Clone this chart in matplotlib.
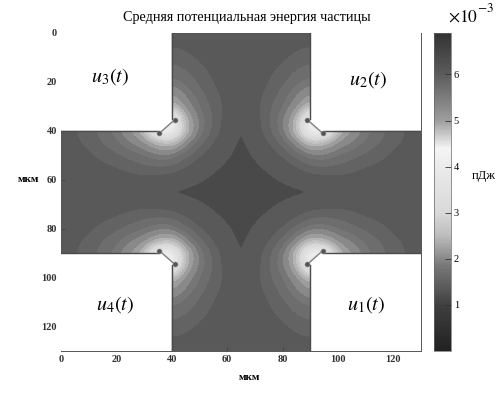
import numpy as np
from matplotlib import pyplot as plt
from matplotlib.cm import ScalarMappable
from matplotlib.colors import LinearSegmentedColormap, Normalize
from matplotlib.patches import Polygon

plt.rcParams["font.family"] = ["Liberation Serif", "DejaVu Serif"]
plt.rcParams["mathtext.fontset"] = "stix"

title = "Средняя потенциальная энергия частицы"
x_label = "мкм"
y_label = "мкм"
cbar_label = "пДж"
ticks = [0, 20, 40, 60, 80, 100, 120]
cbar_ticks = [1, 2, 3, 4, 5, 6]

grid_pos = [0, 10, 20, 30, 36, 40, 44, 50, 56, 62, 65]
energy = [
    [1.40, 1.40, 1.40, 1.40, 1.40, 1.40, 1.40, 1.40, 1.40, 1.40, 1.40],
    [1.40, 1.52, 1.52, 1.52, 1.52, 1.52, 1.50, 1.44, 1.40, 1.40, 1.40],
    [1.40, 1.52, 1.80, 1.80, 1.80, 1.80, 1.72, 1.56, 1.44, 1.40, 1.38],
    [1.40, 1.52, 1.80, 2.40, 2.40, 2.40, 2.10, 1.72, 1.52, 1.37, 1.30],
    [1.40, 1.52, 1.80, 2.40, 4.40, 4.40, 2.50, 1.85, 1.52, 1.34, 1.24],
    [1.40, 1.52, 1.80, 2.40, 4.40, 4.20, 2.60, 1.80, 1.50, 1.32, 1.22],
    [1.40, 1.50, 1.72, 2.10, 2.50, 2.60, 2.10, 1.65, 1.44, 1.28, 1.20],
    [1.40, 1.44, 1.56, 1.72, 1.85, 1.80, 1.65, 1.47, 1.34, 1.22, 1.18],
    [1.40, 1.40, 1.44, 1.52, 1.52, 1.50, 1.44, 1.34, 1.24, 1.16, 1.14],
    [1.40, 1.40, 1.40, 1.37, 1.34, 1.32, 1.28, 1.22, 1.16, 1.13, 1.12],
    [1.40, 1.40, 1.38, 1.30, 1.24, 1.22, 1.20, 1.18, 1.14, 1.12, 1.11],
]
levels = [1.05, 1.24, 1.47, 1.6, 1.75, 1.9, 2.1, 2.3, 2.5, 2.7, 2.9,
          3.1, 3.3, 3.5, 3.7, 3.9, 4.2]

# grey version of the colour scale, from the colour bar
cmap_vals = [0, 1, 1.4, 1.85, 2.1, 2.5, 3, 4, 4.4, 5, 6, 6.9]
cmap_grey = [0.13, 0.25, 0.36, 0.47, 0.58, 0.74, 0.85, 0.92, 0.96, 0.62, 0.36, 0.2]

wall = [(0, 0), (40, 0), (40, 35), (41, 35.5), (35.5, 41), (35, 40), (0, 40)]
electrodes = [(41, 35.5), (35.5, 41)]
labels = [("$u_3(t)$", 17.7, 18), ("$u_2(t)$", 111, 19), ("$u_4(t)$", 19.5, 111), ("$u_1(t)$", 110, 111)]


def full_field():
    q = np.array(energy)
    pos = np.array(grid_pos, dtype=float)
    fine = np.arange(0, 65.01, 0.5)
    rows = np.array([np.interp(fine, pos, r) for r in q])
    f = np.array([np.interp(fine, pos, rows[:, j]) for j in range(len(fine))])
    # round off the corners of the coarse table
    kernel = np.ones(7) / 7
    smooth = lambda a: np.convolve(np.pad(a, 3, mode="edge"), kernel, "valid")
    for _ in range(3):
        f = np.apply_along_axis(smooth, 0, f)
        f = np.apply_along_axis(smooth, 1, f)
    f = np.hstack([f, f[:, -2::-1]])
    f = np.vstack([f, f[-2::-1, :]])
    c = np.linspace(0, 130, f.shape[0])
    return c, f


fig = plt.figure(figsize=(5.02, 3.97), dpi=100)
ax = fig.add_axes([61 / 502, 1 - 351 / 397, 360 / 502, 318 / 397])
cax = fig.add_axes([434 / 502, 1 - 351 / 397, 17 / 502, 318 / 397])

cmap = LinearSegmentedColormap.from_list(
    "grey_jet", [(v / 6.9, (g, g, g)) for v, g in zip(cmap_vals, cmap_grey)]
)
norm = Normalize(0, 6.9)

c, field = full_field()
ax.contourf(c, c, field, levels=levels, cmap=cmap, norm=norm, extend="max")

for sx in (False, True):
    for sy in (False, True):
        mx = lambda v: 130 - v if sx else v
        my = lambda v: 130 - v if sy else v
        pts = [(mx(a), my(b)) for a, b in wall]
        ax.add_patch(Polygon(pts, closed=True, facecolor="white", edgecolor="none", zorder=3))
        ax.plot([pts[1][0], pts[2][0]], [pts[1][1], pts[2][1]], color="#4a4a4a", lw=1.0, zorder=4)
        ax.plot([pts[5][0], pts[6][0]], [pts[5][1], pts[6][1]], color="#4a4a4a", lw=1.0, zorder=4)
        ex = [mx(e[0]) for e in electrodes]
        ey = [my(e[1]) for e in electrodes]
        ax.plot(ex, ey, color="#808080", lw=1.0, zorder=5)
        ax.plot(ex, ey, "o", color="#555555", ms=3.6, mec="#8a8a8a", mew=0.4, zorder=6)

for text, x, y in labels:
    ax.text(x, y, text, fontsize=14.5, ha="center", va="center", zorder=7)

ax.set_xlim(0, 130)
ax.set_ylim(130, 0)
ax.set_xticks(ticks)
ax.set_yticks(ticks)
ax.tick_params(direction="in", length=3, width=0.6, labelsize=7.5, pad=3, color="#444444")
for lab in ax.get_xticklabels() + ax.get_yticklabels():
    lab.set_fontweight("bold")
    lab.set_color("#333333")
for s in ax.spines.values():
    s.set_linewidth(0.7)
    s.set_color("#555555")

ax.set_title(title, fontsize=10.2, pad=9, x=0.517)
fig.text(249 / 502, 1 - 378 / 397, x_label, fontsize=8, fontweight="bold", ha="center", va="center")
fig.text(28 / 502, 1 - 180 / 397, y_label, fontsize=8, fontweight="bold", ha="center", va="center")
fig.text(484 / 502, 1 - 176 / 397, cbar_label, fontsize=9, ha="center", va="center")

cb = fig.colorbar(ScalarMappable(norm=norm, cmap=cmap), cax=cax)
cb.set_ticks(cbar_ticks)
cb.ax.tick_params(direction="in", length=4, width=0.6, labelsize=7.5, pad=2, color="#333333")
cb.outline.set_linewidth(0.5)
cb.outline.set_edgecolor("#666666")
fig.text(448 / 502, 1 - 18 / 397, r"$\times 10$", fontsize=12.5, ha="left", va="center")
fig.text(477 / 502, 1 - 8 / 397, r"$-3$", fontsize=9.5, ha="left", va="center")

fig.savefig("out.png", dpi=100)
